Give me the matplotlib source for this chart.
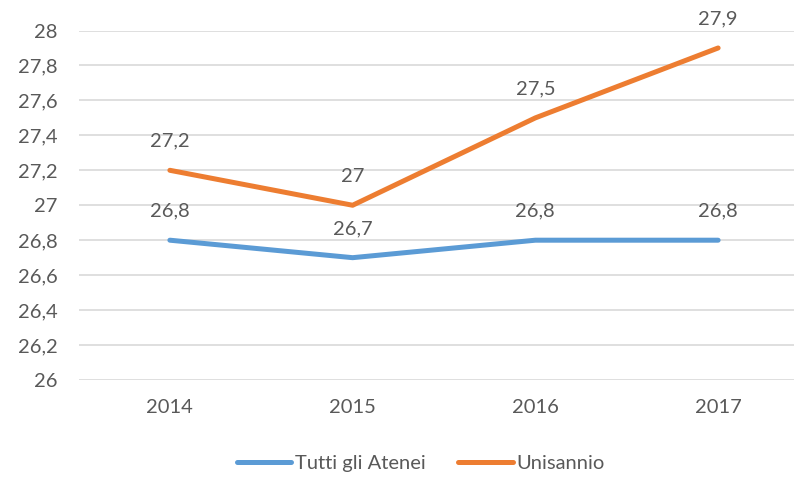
import matplotlib
matplotlib.use("Agg")
import matplotlib.pyplot as plt
from matplotlib.ticker import FuncFormatter

years = ["2014", "2015", "2016", "2017"]
tutti = [26.8, 26.7, 26.8, 26.8]
unisannio = [27.2, 27.0, 27.5, 27.9]
series_names = ["Tutti gli Atenei", "Unisannio"]

def it_fmt(v, pos=None):
    s = f"{v:.1f}".replace(".", ",")
    if s.endswith(",0"):
        s = s[:-2]
    return s

plt.rcParams["font.family"] = ["Lato", "DejaVu Sans"]
text_col = "#595959"
fs = 14.5

fig = plt.figure(figsize=(7.94, 4.78), dpi=100)
ax = fig.add_axes([78.5 / 794, 98 / 478, 731 / 794, 349.5 / 478])

x = list(range(len(years)))
l1, = ax.plot(x, tutti, color="#5B9BD5", lw=3.6, solid_capstyle="round")
l2, = ax.plot(x, unisannio, color="#ED7D31", lw=3.6, solid_capstyle="round")

for xs, ys in [(x, tutti), (x, unisannio)]:
    for xi, yi in zip(xs, ys):
        ax.annotate(it_fmt(yi), (xi, yi), xytext=(0, 21), textcoords="offset points",
                    ha="center", va="center", fontsize=fs, color=text_col)

ax.set_xlim(-0.5, 3.5)
ax.set_ylim(26, 28)
ax.set_yticks([26 + 0.2 * i for i in range(11)])
ax.yaxis.set_major_formatter(FuncFormatter(it_fmt))
ax.set_xticks(x)
ax.set_xticklabels(years)
ax.tick_params(axis="y", length=0, pad=15, labelsize=fs, labelcolor=text_col)
ax.tick_params(axis="x", length=0, pad=14, labelsize=fs, labelcolor=text_col)
ax.grid(axis="y", color="#D9D9D9", lw=1.2)
ax.set_axisbelow(True)
for s in ax.spines.values():
    s.set_visible(False)

fig.legend([l1, l2], series_names, loc="center", bbox_to_anchor=(0.53, 0.03),
           ncol=2, frameon=False, fontsize=fs, labelcolor=text_col,
           handlelength=2.7, handletextpad=0.2, columnspacing=1.6)

fig.savefig("out.png", dpi=100)
